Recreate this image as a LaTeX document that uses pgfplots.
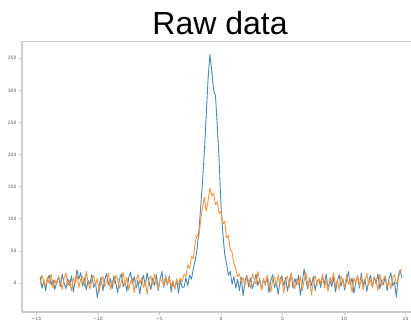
\documentclass[border=0pt]{standalone}
\usepackage{pgfplots}
\pgfplotsset{compat=1.18}
\usepackage{pgfplotstable}
\usepackage{fontspec}
\setmainfont{DejaVu Sans}
\newfontfamily\titlefont{Liberation Sans}
\definecolor{mplblue}{HTML}{1F77B4}
\definecolor{mplorange}{HTML}{FF7F0E}
\definecolor{spine}{HTML}{CCCCCC}
\definecolor{ticklab}{HTML}{555555}

\pgfplotstableread[row sep=\\]{
x y\\
-14.70 10\\ -14.55 -8\\ -14.40 4\\ -14.25 -12\\ -14.10 6\\ -13.95 12\\ -13.80 -3\\ -13.65 5\\ -13.50 -10\\ -13.35 2\\
-13.20 9\\ -13.05 -6\\ -12.90 14\\ -12.75 0\\ -12.60 -9\\ -12.45 7\\ -12.30 -4\\ -12.15 11\\ -12.00 -14\\ -11.85 3\\
-11.70 21\\ -11.55 6\\ -11.40 16\\ -11.25 -5\\ -11.10 8\\ -10.95 -11\\ -10.80 4\\ -10.65 -2\\ -10.50 13\\ -10.35 -7\\
-10.20 1\\ -10.05 -23\\ -9.90 -4\\ -9.75 9\\ -9.60 -12\\ -9.45 5\\ -9.30 15\\ -9.15 -3\\ -9.00 7\\ -8.85 -9\\
-8.70 11\\ -8.55 0\\ -8.40 -15\\ -8.25 6\\ -8.10 14\\ -7.95 -6\\ -7.80 3\\ -7.65 -13\\ -7.50 8\\ -7.35 17\\
-7.20 -2\\ -7.05 10\\ -6.90 -8\\ -6.75 4\\ -6.60 -17\\ -6.45 2\\ -6.30 12\\ -6.15 -5\\ -6.00 16\\ -5.85 1\\
-5.70 -10\\ -5.55 7\\ -5.40 -4\\ -5.25 13\\ -5.10 -12\\ -4.95 5\\ -4.80 18\\ -4.65 -7\\ -4.50 9\\ -4.35 -3\\
-4.20 11\\ -4.05 -14\\ -3.90 2\\ -3.75 -9\\ -3.60 6\\ -3.45 -16\\ -3.30 4\\ -3.15 -7\\ -3.00 -6\\ -2.85 8\\
-2.70 -4\\ -2.55 12\\ -2.40 6\\ -2.25 22\\ -2.10 35\\ -1.95 52\\ -1.80 80\\ -1.65 118\\ -1.50 158\\ -1.35 205\\
-1.20 262\\ -1.05 318\\ -0.90 356\\ -0.75 330\\ -0.60 300\\ -0.45 292\\ -0.30 245\\ -0.15 190\\ 0.00 120\\ 0.15 78\\
0.30 45\\ 0.45 30\\ 0.60 12\\ 0.75 18\\ 0.90 -2\\ 1.05 10\\ 1.20 -8\\ 1.35 6\\ 1.50 -12\\ 1.65 9\\
1.80 -20\\ 1.95 3\\ 2.10 12\\ 2.25 -6\\ 2.40 8\\ 2.55 -9\\ 2.70 2\\ 2.85 14\\ 3.00 -4\\ 3.15 7\\
3.30 -11\\ 3.45 5\\ 3.60 -2\\ 3.75 10\\ 3.90 -15\\ 4.05 4\\ 4.20 13\\ 4.35 -7\\ 4.50 1\\ 4.65 -18\\
4.80 6\\ 4.95 11\\ 5.10 -5\\ 5.25 9\\ 5.40 -13\\ 5.55 3\\ 5.70 15\\ 5.85 -8\\ 6.00 7\\ 6.15 -3\\
6.30 12\\ 6.45 -19\\ 6.60 0\\ 6.75 22\\ 6.90 5\\ 7.05 -9\\ 7.20 8\\ 7.35 -4\\ 7.50 10\\ 7.65 -12\\
7.80 3\\ 7.95 6\\ 8.10 -7\\ 8.25 11\\ 8.40 -2\\ 8.55 14\\ 8.70 -10\\ 8.85 4\\ 9.00 -6\\ 9.15 9\\
9.30 -14\\ 9.45 2\\ 9.60 13\\ 9.75 -5\\ 9.90 7\\ 10.05 -11\\ 10.20 5\\ 10.35 18\\ 10.50 -3\\ 10.65 8\\
10.80 -16\\ 10.95 1\\ 11.10 10\\ 11.25 -8\\ 11.40 15\\ 11.55 -4\\ 11.70 6\\ 11.85 -13\\ 12.00 3\\ 12.15 12\\
12.30 -6\\ 12.45 9\\ 12.60 -1\\ 12.75 14\\ 12.90 -9\\ 13.05 5\\ 13.20 -3\\ 13.35 11\\ 13.50 -12\\ 13.65 7\\
13.80 16\\ 13.95 -4\\ 14.10 2\\ 14.25 -22\\ 14.40 10\\ 14.55 20\\ 14.70 8\\
}\bluedata

\pgfplotstableread[row sep=\\]{
x y\\
-14.70 -2\\ -14.55 12\\ -14.40 3\\ -14.25 -6\\ -14.10 9\\ -13.95 -1\\ -13.80 14\\ -13.65 -8\\ -13.50 5\\ -13.35 -3\\
-13.20 11\\ -13.05 2\\ -12.90 -10\\ -12.75 7\\ -12.60 16\\ -12.45 -4\\ -12.30 4\\ -12.15 -12\\ -12.00 8\\ -11.85 0\\
-11.70 13\\ -11.55 -7\\ -11.40 6\\ -11.25 10\\ -11.10 -5\\ -10.95 18\\ -10.80 1\\ -10.65 -9\\ -10.50 5\\ -10.35 12\\
-10.20 -3\\ -10.05 7\\ -9.90 -14\\ -9.75 3\\ -9.60 10\\ -9.45 -6\\ -9.30 2\\ -9.15 15\\ -9.00 -10\\ -8.85 4\\
-8.70 -2\\ -8.55 12\\ -8.40 6\\ -8.25 -8\\ -8.10 1\\ -7.95 17\\ -7.80 -4\\ -7.65 9\\ -7.50 -11\\ -7.35 3\\
-7.20 7\\ -7.05 -15\\ -6.90 5\\ -6.75 13\\ -6.60 -1\\ -6.45 8\\ -6.30 -7\\ -6.15 2\\ -6.00 -18\\ -5.85 6\\
-5.70 11\\ -5.55 -3\\ -5.40 14\\ -5.25 0\\ -5.10 -9\\ -4.95 7\\ -4.80 3\\ -4.65 -5\\ -4.50 12\\ -4.35 -2\\
-4.20 8\\ -4.05 -6\\ -3.90 4\\ -3.75 -10\\ -3.60 5\\ -3.45 -3\\ -3.30 8\\ -3.15 2\\ -3.00 14\\ -2.85 10\\
-2.70 28\\ -2.55 22\\ -2.40 42\\ -2.25 38\\ -2.10 62\\ -1.95 75\\ -1.80 72\\ -1.65 98\\ -1.50 118\\ -1.35 134\\
-1.20 112\\ -1.05 128\\ -0.90 148\\ -0.75 136\\ -0.60 140\\ -0.45 122\\ -0.30 126\\ -0.15 108\\ 0.00 112\\ 0.15 92\\
0.30 96\\ 0.45 70\\ 0.60 74\\ 0.75 52\\ 0.90 48\\ 1.05 30\\ 1.20 22\\ 1.35 10\\ 1.50 14\\ 1.65 2\\
1.80 8\\ 1.95 -5\\ 2.10 10\\ 2.25 3\\ 2.40 -8\\ 2.55 14\\ 2.70 6\\ 2.85 -3\\ 3.00 18\\ 3.15 2\\
3.30 -11\\ 3.45 7\\ 3.60 -4\\ 3.75 12\\ 3.90 0\\ 4.05 -14\\ 4.20 5\\ 4.35 9\\ 4.50 -6\\ 4.65 13\\
4.80 -2\\ 4.95 8\\ 5.10 -16\\ 5.25 4\\ 5.40 11\\ 5.55 -7\\ 5.70 15\\ 5.85 1\\ 6.00 -9\\ 6.15 6\\
6.30 -3\\ 6.45 10\\ 6.60 -12\\ 6.75 3\\ 6.90 17\\ 7.05 -5\\ 7.20 8\\ 7.35 -19\\ 7.50 2\\ 7.65 12\\
7.80 -4\\ 7.95 7\\ 8.10 -1\\ 8.25 14\\ 8.40 -8\\ 8.55 5\\ 8.70 -13\\ 8.85 9\\ 9.00 1\\ 9.15 16\\
9.30 -6\\ 9.45 4\\ 9.60 -10\\ 9.75 11\\ 9.90 3\\ 10.05 -7\\ 10.20 13\\ 10.35 -2\\ 10.50 6\\ 10.65 -15\\
10.80 8\\ 10.95 0\\ 11.10 12\\ 11.25 -5\\ 11.40 9\\ 11.55 -11\\ 11.70 4\\ 11.85 15\\ 12.00 -3\\ 12.15 7\\
12.30 -8\\ 12.45 10\\ 12.60 2\\ 12.75 -12\\ 12.90 14\\ 13.05 -4\\ 13.20 6\\ 13.35 11\\ 13.50 -6\\ 13.65 3\\
13.80 -9\\ 13.95 8\\ 14.10 13\\ 14.25 -2\\ 14.40 5\\ 14.55 18\\ 14.70 22\\
}\orangedata

\begin{document}
\begin{tikzpicture}[x=1pt,y=1pt]
\path[use as bounding box] (0,0) rectangle (411,323);
\begin{axis}[
  at={(22pt,11pt)}, anchor=south west,
  scale only axis, width=389pt, height=270.5pt,
  xmin=-16.17, xmax=15.44, ymin=-45.2, ymax=376.2,
  axis lines*=left,
  axis line style={draw=spine, line width=1.4pt},
  xtick={-15,-10,-5,0,5,10,15},
  xticklabels={−15,−10,−5,0,5,10,15},
  ytick={0,50,100,150,200,250,300,350},
  yticklabels={0,50,100,150,200,250,300,350},
  tick align=outside,
  major tick length=3pt,
  every tick/.style={draw=spine, line width=0.6pt},
  tick label style={font=\fontsize{4.5}{5}\selectfont, text=ticklab},
  xticklabel style={yshift=1pt},
  yticklabel style={xshift=1pt},
  /pgf/number format/assume math mode=true,
  clip=false,
]
\addplot[mplblue!85!white, line width=0.9pt, line join=round] table[x=x,y=y] {\bluedata};
\addplot[mplorange!85!white, line width=0.9pt, line join=round] table[x=x,y=y] {\orangedata};
\draw[spine, line width=1.4pt] (rel axis cs:0,1) -- (rel axis cs:1,1);
\end{axis}
\node[anchor=base, font=\titlefont\fontsize{32}{32}\selectfont] at (220,288) {Raw data};
\end{tikzpicture}
\end{document}
